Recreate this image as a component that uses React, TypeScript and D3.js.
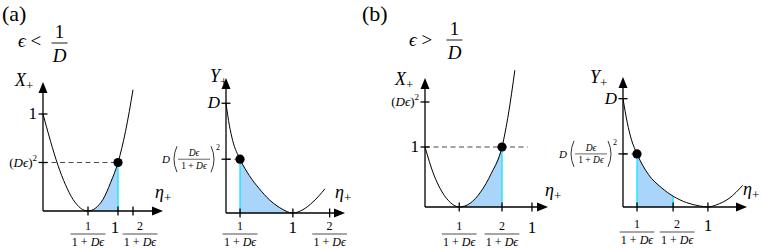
import * as d3 from 'd3';

type Pt = [number, number];
type Tick = { v: number; label: string };

// (a) left panel: X+ against eta+
const curveA1: Pt[] = [
  [0, 1], [0.1, 0.72], [0.2, 0.47], [0.3, 0.27], [0.4, 0.12], [0.5, 0.03], [0.6, 0],
  [0.7, 0.03], [0.8, 0.12], [0.9, 0.29], [1.0, 0.5], [1.1, 0.82], [1.2, 1.25],
];
const xTicksA1: Tick[] = [{ v: 0.6, label: 'f1' }, { v: 1, label: '1' }, { v: 1.2, label: 'f2' }];
const yTicksA1: Tick[] = [{ v: 1, label: '1' }, { v: 0.5, label: 'De2' }];

// (a) right panel: Y+ against eta+
const curveA2: Pt[] = [
  [0, 1], [0.05, 0.8], [0.1, 0.66], [0.21, 0.49], [0.35, 0.34], [0.5, 0.22], [0.65, 0.12],
  [0.8, 0.05], [1, 0], [1.15, 0.03], [1.3, 0.1], [1.48, 0.22],
];
const xTicksA2: Tick[] = [{ v: 0.21, label: 'f1' }, { v: 1, label: '1' }, { v: 1.55, label: 'f2' }];
const yTicksA2: Tick[] = [{ v: 1, label: 'D' }, { v: 0.49, label: 'DDe2' }];

// (b) left panel: X+ against eta+
const curveB1: Pt[] = [
  [0, 1], [0.08, 0.55], [0.16, 0.25], [0.24, 0.07], [0.32, 0], [0.42, 0.06], [0.52, 0.25],
  [0.62, 0.56], [0.72, 1], [0.78, 1.55], [0.84, 2.28],
];
const xTicksB1: Tick[] = [{ v: 0.32, label: 'f1' }, { v: 0.72, label: 'f2' }, { v: 1, label: '1' }];
const yTicksB1: Tick[] = [{ v: 1.75, label: 'De2' }, { v: 1, label: '1' }];

// (b) right panel: Y+ against eta+
const curveB2: Pt[] = [
  [0, 1], [0.05, 0.78], [0.1, 0.62], [0.165, 0.49], [0.3, 0.3], [0.45, 0.18], [0.59, 0.1],
  [0.75, 0.04], [0.9, 0.01], [1, 0], [1.1, 0.02], [1.25, 0.08], [1.41, 0.2],
];
const xTicksB2: Tick[] = [{ v: 0.165, label: 'f1' }, { v: 0.59, label: 'f2' }, { v: 1, label: '1' }];
const yTicksB2: Tick[] = [{ v: 1, label: 'D' }, { v: 0.49, label: 'DDe2' }];

const panels = [
  { id: 'a1', curve: curveA1, xMax: 1.6, yMax: 1.33, xTicks: xTicksA1, yTicks: yTicksA1, fill: [0.6, 1.0], dot: [1.0, 0.5], dashTo: 1.0, yName: 'X' },
  { id: 'a2', curve: curveA2, xMax: 1.78, yMax: 1.23, xTicks: xTicksA2, yTicks: yTicksA2, fill: [0.21, 1.0], dot: [0.21, 0.49], dashTo: 0.21, yName: 'Y' },
  { id: 'b1', curve: curveB1, xMax: 1.15, yMax: 2.15, xTicks: xTicksB1, yTicks: yTicksB1, fill: [0.32, 0.72], dot: [0.72, 1], dashTo: 0.96, yName: 'X' },
  { id: 'b2', curve: curveB2, xMax: 1.46, yMax: 1.2, xTicks: xTicksB2, yTicks: yTicksB2, fill: [0.165, 0.59], dot: [0.165, 0.49], dashTo: 0.165, yName: 'Y' },
];

// pixel placement of each panel (origin, axis lengths, label spots)
const layout: Record<string, any> = {
  a1: { ox: 43, oy: 211, w: 120, h: 129, barY: 234, yT: [-28, 4], xT: [-8, -13], shift: { f2: 7, '1': -3 } },
  a2: { ox: 226, oy: 213, w: 119, h: 135, barY: 234, yT: [-16, 4], xT: [-10, -15], shift: {} },
  b1: { ox: 425, oy: 207, w: 123, h: 129, barY: 234, yT: [-30, 7], xT: [-3, -11], shift: {} },
  b2: { ox: 623, oy: 207, w: 124, h: 130, barY: 232, yT: [-33, 6], xT: [-4, -12], shift: { f2: 4 } },
};

const EPS = '\u03f5';
const FILL = '#aad5fb';
const CYAN = '#1fe3ff';

function Frac({ cx, barY, num, size = 12 }: { cx: number; barY: number; num: string; size?: number }) {
  const w = size * 2.9;
  return (
    <g>
      <text x={cx} y={barY - 4} textAnchor="middle" fontSize={size}>{num}</text>
      <line x1={cx - w / 2} x2={cx + w / 2} y1={barY} y2={barY} stroke="#000" strokeWidth={0.7} />
      <text x={cx} y={barY + size} textAnchor="middle" fontSize={size}>
        1 + <tspan fontStyle="italic">D{EPS}</tspan>
      </text>
    </g>
  );
}

function XTickLabel({ kind, x, barY }: { kind: string; x: number; barY: number }) {
  if (kind === '1') return <text x={x} y={barY - 1} textAnchor="middle" fontSize={17}>1</text>;
  return <Frac cx={x} barY={barY} num={kind === 'f1' ? '1' : '2'} />;
}

function YTickLabel({ kind, x, y }: { kind: string; x: number; y: number }) {
  if (kind === '1') return <text x={x} y={y + 5} textAnchor="end" fontSize={17}>1</text>;
  if (kind === 'D') return <text x={x} y={y + 5} textAnchor="end" fontSize={17} fontStyle="italic">D</text>;
  if (kind === 'De2')
    return (
      <text x={x} y={y + 4} textAnchor="end" fontSize={13}>
        (<tspan fontStyle="italic">D{EPS}</tspan>)<tspan dy={-6} fontSize={9}>2</tspan>
      </text>
    );
  // D ( De / (1+De) )^2
  const fc = x - 26;
  return (
    <g>
      <text x={x} y={y - 9} textAnchor="end" fontSize={8}>2</text>
      <path d={`M${x - 9},${y - 13} Q${x - 3},${y} ${x - 9},${y + 13}`} fill="none" stroke="#000" strokeWidth={0.8} />
      <text x={fc} y={y - 3} textAnchor="middle" fontSize={9.5} fontStyle="italic">D{EPS}</text>
      <line x1={fc - 16} x2={fc + 16} y1={y} y2={y} stroke="#000" strokeWidth={0.6} />
      <text x={fc} y={y + 9.5} textAnchor="middle" fontSize={9.5}>
        1 + <tspan fontStyle="italic">D{EPS}</tspan>
      </text>
      <path d={`M${x - 43},${y - 13} Q${x - 49},${y} ${x - 43},${y + 13}`} fill="none" stroke="#000" strokeWidth={0.8} />
      <text x={x - 50} y={y + 4} textAnchor="end" fontSize={11} fontStyle="italic">D</text>
    </g>
  );
}

function Panel({ p }: { p: (typeof panels)[number] }) {
  const L = layout[p.id];
  const x = d3.scaleLinear().domain([0, p.xMax]).range([L.ox, L.ox + L.w]);
  const y = d3.scaleLinear().domain([0, p.yMax]).range([L.oy, L.oy - L.h]);
  const line = d3.line<Pt>().x(d => x(d[0])).y(d => y(d[1])).curve(d3.curveMonotoneX);
  const area = d3
    .area<Pt>()
    .x(d => x(d[0]))
    .y0(y(0))
    .y1(d => y(d[1]))
    .curve(d3.curveMonotoneX);
  const fillPts = p.curve.filter(d => d[0] >= p.fill[0] - 1e-9 && d[0] <= p.fill[1] + 1e-9);
  const edges = [fillPts[0], fillPts[fillPts.length - 1]].filter(d => d[1] > 0);
  const tipX = L.ox + L.w;
  const tipY = L.oy - L.h;

  return (
    <g>
      <path d={area(fillPts) ?? ''} fill={FILL} />
      {edges.map((d, i) => (
        <line key={i} x1={x(d[0])} x2={x(d[0])} y1={y(0)} y2={y(d[1])} stroke={CYAN} strokeWidth={1.4} />
      ))}
      <path d={line(p.curve) ?? ''} fill="none" stroke="#000" strokeWidth={1} />
      <line x1={x(0)} x2={x(p.dashTo)} y1={y(p.dot[1])} y2={y(p.dot[1])} stroke="#333" strokeWidth={0.9} strokeDasharray="5 3.5" />

      {/* axes with arrow heads */}
      <line x1={L.ox} x2={tipX - 6} y1={L.oy} y2={L.oy} stroke="#000" strokeWidth={1.3} />
      <line x1={L.ox} x2={L.ox} y1={L.oy} y2={tipY + 6} stroke="#000" strokeWidth={1.3} />
      <path d={`M${tipX},${L.oy} L${tipX - 11},${L.oy - 4.5} L${tipX - 11},${L.oy + 4.5} Z`} fill="#000" />
      <path d={`M${L.ox},${tipY} L${L.ox - 4.5},${tipY + 11} L${L.ox + 4.5},${tipY + 11} Z`} fill="#000" />

      {p.xTicks.map(t => (
        <g key={t.label}>
          <line x1={x(t.v)} x2={x(t.v)} y1={L.oy - 4.5} y2={L.oy + 4.5} stroke="#000" strokeWidth={1.3} />
          <XTickLabel kind={t.label} x={x(t.v) + (L.shift[t.label] ?? 0)} barY={L.barY} />
        </g>
      ))}
      {p.yTicks.map(t => (
        <g key={t.label}>
          <line x1={L.ox - 4.5} x2={L.ox + 4.5} y1={y(t.v)} y2={y(t.v)} stroke="#000" strokeWidth={1.3} />
          <YTickLabel kind={t.label} x={L.ox - 6} y={y(t.v)} />
        </g>
      ))}

      <circle cx={x(p.dot[0])} cy={y(p.dot[1])} r={4.6} fill="#000" />

      <text x={L.ox + L.yT[0]} y={tipY + L.yT[1]} fontSize={18}>
        <tspan fontStyle="italic">{p.yName}</tspan>
        <tspan dy={4} fontSize={13}>+</tspan>
      </text>
      <text x={tipX + L.xT[0]} y={L.oy + L.xT[1]} fontSize={18}>
        <tspan fontStyle="italic">{'\u03b7'}</tspan>
        <tspan dy={4} fontSize={13}>+</tspan>
      </text>
    </g>
  );
}

function Header({ x, base, op, barY, cx, tag, tagX }: { x: number; base: number; op: string; barY: number; cx: number; tag: string; tagX: number }) {
  return (
    <g>
      <text x={tagX} y={21} fontSize={22}>{tag}</text>
      <text x={x} y={base} fontSize={19}>
        <tspan fontStyle="italic">{EPS}</tspan> {op}
      </text>
      <text x={cx} y={barY - 5} textAnchor="middle" fontSize={19}>1</text>
      <line x1={cx - 8} x2={cx + 8} y1={barY} y2={barY} stroke="#000" strokeWidth={0.9} />
      <text x={cx} y={barY + 19} textAnchor="middle" fontSize={19} fontStyle="italic">D</text>
    </g>
  );
}

export default function App() {
  return (
    <svg width={763} height={249} style={{ position: 'absolute', left: 0, top: 0, background: '#fff' }}>
      <style>{'text { font-family: "Liberation Serif", serif; }'}</style>
      <Header tag="(a)" tagX={2} x={18} base={47} op="<" barY={43} cx={59.5} />
      <Header tag="(b)" tagX={362} x={409} base={46} op=">" barY={40} cx={454.5} />
      {panels.map(p => (
        <Panel key={p.id} p={p} />
      ))}
    </svg>
  );
}
